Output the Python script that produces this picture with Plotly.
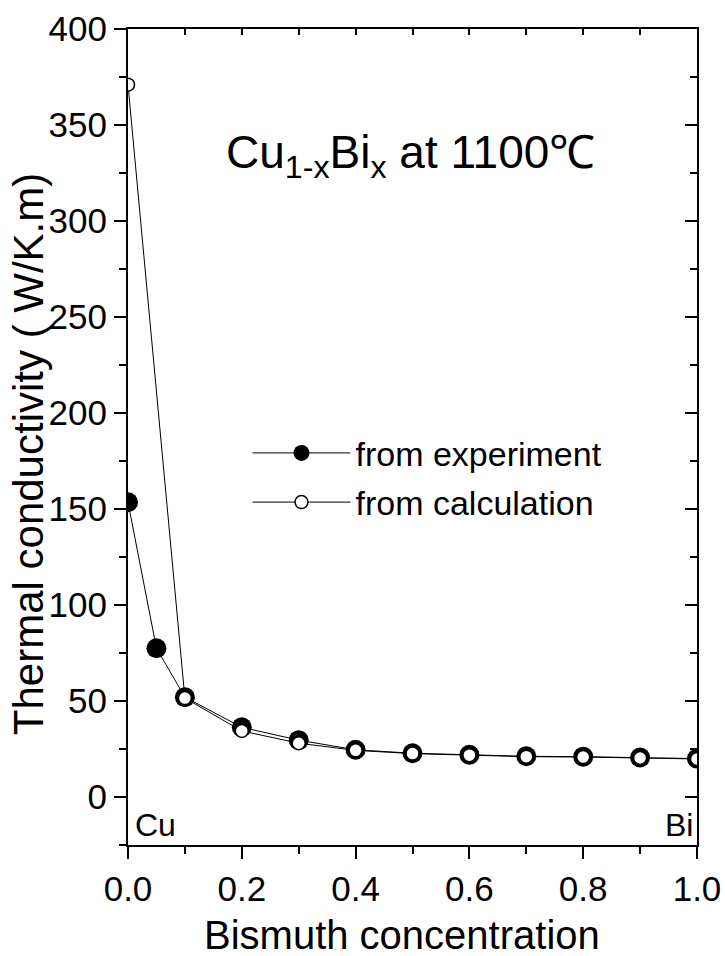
import plotly.graph_objects as go

# Data
x_exp = [0.0, 0.05, 0.1, 0.2, 0.3, 0.4, 0.5, 0.6, 0.7, 0.8, 0.9, 1.0]
k_exp = [153.5, 77.5, 52.0, 36.3, 29.6, 24.6, 22.8, 22.0, 21.2, 21.0, 20.6, 20.0]
x_calc = [0.0, 0.1, 0.2, 0.3, 0.4, 0.5, 0.6, 0.7, 0.8, 0.9, 1.0]
k_calc = [371.0, 51.5, 34.4, 28.0, 24.3, 22.6, 21.8, 21.0, 20.8, 20.3, 19.8]

x_ticks = [0.0, 0.2, 0.4, 0.6, 0.8, 1.0]
x_ticklabels = ["0.0", "0.2", "0.4", "0.6", "0.8", "1.0"]
y_ticks = [0, 50, 100, 150, 200, 250, 300, 350, 400]

FONT = "Liberation Sans, Arial, Helvetica, sans-serif"

fig = go.Figure()
fig.add_trace(go.Scatter(
    x=x_exp, y=k_exp, mode="lines+markers", name="from experiment",
    line=dict(color="black", width=1),
    marker=dict(symbol="circle", size=20, color="black"),
    legendgroup="a",
))
fig.add_trace(go.Scatter(
    x=x_calc, y=k_calc, mode="lines+markers", name="from calculation",
    line=dict(color="black", width=1),
    marker=dict(symbol="circle", size=13, color="white", line=dict(color="black", width=1.5)),
    legendgroup="b",
))

axis_common = dict(showgrid=False, zeroline=False, linecolor="black", linewidth=2,
                   tickcolor="black", tickwidth=2, ticklen=12, automargin=False,
                   tickfont=dict(family=FONT, size=35, color="black"))

fig.update_layout(
    width=725, height=956,
    margin=dict(l=128, r=28, t=29, b=111, autoexpand=False),
    plot_bgcolor="white", paper_bgcolor="white",
    font=dict(family=FONT, color="black"),
    showlegend=True,
    legend=dict(x=0.21, y=0.45, xanchor="left", yanchor="middle",
                bgcolor="rgba(0,0,0,0)", itemwidth=98, tracegroupgap=2,
                font=dict(family=FONT, size=34, color="black")),
    xaxis=dict(range=[0, 1], tickvals=x_ticks, ticktext=x_ticklabels, ticks="outside",
               minor=dict(dtick=0.1, tick0=0, ticklen=7, tickwidth=2, tickcolor="black", ticks="outside"),
               **axis_common),
    yaxis=dict(range=[-25, 400], tickvals=y_ticks, ticks="outside",
               minor=dict(dtick=25, tick0=0, ticklen=7, tickwidth=2, tickcolor="black", ticks="outside"),
               **axis_common),
    xaxis2=dict(range=[0, 1], overlaying="x", side="top", tickvals=x_ticks, ticks="inside",
                showticklabels=False, showline=True, showgrid=False, zeroline=False, automargin=False,
                linecolor="black", linewidth=2, tickcolor="black", tickwidth=2, ticklen=6,
                minor=dict(dtick=0.1, tick0=0, ticklen=6, tickwidth=2, tickcolor="black", ticks="inside"),
                matches="x"),
    yaxis2=dict(range=[-25, 400], overlaying="y", side="right", tickvals=y_ticks, ticks="inside",
                showticklabels=False, showline=True, showgrid=False, zeroline=False, automargin=False,
                linecolor="black", linewidth=2, tickcolor="black", tickwidth=2, ticklen=12,
                minor=dict(dtick=25, tick0=0, ticklen=7, tickwidth=2, tickcolor="black", ticks="inside"),
                matches="y"),
)
# invisible trace to activate the mirrored axes
fig.add_trace(go.Scatter(x=[None], y=[None], xaxis="x2", yaxis="y2", showlegend=False, hoverinfo="skip"))

# axis titles as annotations for exact placement
fig.add_annotation(x=0.4815, y=-0.110, xref="paper", yref="paper", showarrow=False,
                   text="Bismuth concentration", font=dict(family=FONT, size=40, color="black"),
                   xanchor="center", yanchor="middle")
fig.add_annotation(x=-0.1757, y=0.479, xref="paper", yref="paper", showarrow=False,
                   text="Thermal conductivity ( W/K.m)", textangle=-90,
                   font=dict(family=FONT, size=42, color="black"),
                   xanchor="center", yanchor="middle")

fig.add_annotation(x=0.497, y=0.845, xref="paper", yref="paper", showarrow=False,
                   text="Cu<sub>1-x</sub>Bi<sub>x</sub> at 1100℃",
                   font=dict(family=FONT, size=46, color="black"), xanchor="center", yanchor="middle")
fig.add_annotation(x=0.008, y=0.0, xref="paper", yref="paper", showarrow=False,
                   text="Cu", font=dict(family=FONT, size=32, color="black"),
                   xanchor="left", yanchor="bottom")
fig.add_annotation(x=0.996, y=0.0, xref="paper", yref="paper", showarrow=False,
                   text="Bi", font=dict(family=FONT, size=32, color="black"),
                   xanchor="right", yanchor="bottom")

fig.write_html("out.html")
